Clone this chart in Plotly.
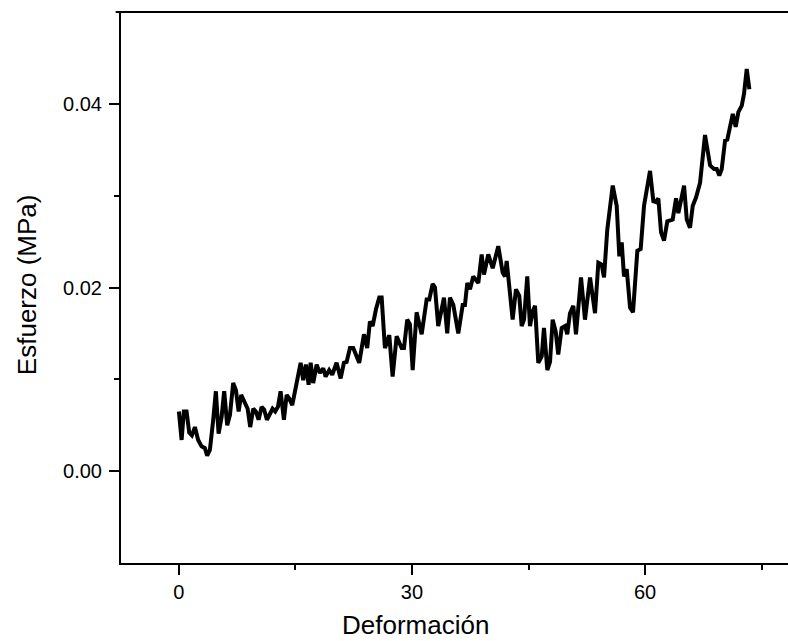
import plotly.graph_objects as go

deformacion = [0.0, 0.35, 0.64, 0.99, 1.33, 1.67, 2.06, 2.48, 2.92, 3.35, 3.64, 3.99, 4.42, 4.76, 5.11, 5.50, 5.83, 6.22, 6.57, 6.99,
               7.34, 7.69, 8.02, 8.46, 8.85, 9.18, 9.57, 9.91, 10.26, 10.65, 10.98, 11.33, 11.72, 12.06, 12.40, 12.75, 13.09, 13.52, 13.87, 14.20,
               14.59, 15.06, 15.67, 16.00, 16.35, 16.70, 16.96, 17.29, 17.73, 18.15, 18.58, 18.89, 19.35, 19.74, 20.30, 20.82, 21.24, 21.59, 22.02, 22.44,
               23.21, 23.82, 24.24, 24.59, 24.94, 25.36, 25.79, 26.10, 26.52, 27.08, 27.51, 28.03, 28.67, 28.97, 29.39, 29.74, 30.09, 30.60, 31.25, 31.89,
               32.23, 32.66, 32.96, 33.38, 33.82, 34.12, 34.54, 34.89, 35.32, 35.96, 36.53, 36.82, 37.12, 37.47, 37.89, 38.33, 38.54, 38.97, 39.27, 39.82,
               40.39, 41.11, 41.68, 41.97, 42.19, 42.96, 43.39, 43.81, 44.12, 44.42, 44.84, 45.19, 45.54, 45.84, 46.26, 46.70, 46.99, 47.42, 47.77, 48.11,
               48.50, 48.83, 49.27, 49.70, 49.99, 50.34, 50.77, 51.11, 51.76, 52.27, 52.92, 53.56, 53.99, 54.42, 54.72, 55.14, 55.84, 56.35, 56.69, 57.00,
               57.29, 57.64, 58.07, 58.45, 59.01, 59.44, 59.87, 60.64, 61.07, 61.41, 61.71, 62.06, 62.44, 62.87, 63.56, 63.99, 64.29, 65.02, 65.37, 65.79,
               66.14, 66.56, 67.08, 67.72, 68.37, 68.88, 69.23, 69.56, 69.87, 70.30, 70.59, 71.29, 71.67, 72.01, 72.45, 72.74, 73.09, 73.43]

esfuerzo = [0.0065, 0.0034, 0.0065, 0.0065, 0.0042, 0.0039, 0.0048, 0.0034, 0.0027, 0.0025, 0.0017, 0.0023, 0.0056, 0.0087, 0.0041, 0.0059, 0.0087, 0.0050, 0.0061, 0.0096,
            0.0088, 0.0065, 0.0083, 0.0076, 0.0068, 0.0048, 0.0068, 0.0065, 0.0056, 0.0070, 0.0067, 0.0056, 0.0063, 0.0068, 0.0065, 0.0070, 0.0087, 0.0056, 0.0083, 0.0079,
            0.0072, 0.0092, 0.0118, 0.0099, 0.0116, 0.0094, 0.0118, 0.0096, 0.0116, 0.0107, 0.0112, 0.0103, 0.0110, 0.0105, 0.0118, 0.0101, 0.0118, 0.0119, 0.0134, 0.0134,
            0.0118, 0.0149, 0.0134, 0.0163, 0.0158, 0.0176, 0.0189, 0.0189, 0.0134, 0.0148, 0.0103, 0.0147, 0.0134, 0.0134, 0.0165, 0.0160, 0.0110, 0.0173, 0.0149, 0.0187,
            0.0187, 0.0204, 0.0200, 0.0158, 0.0176, 0.0189, 0.0150, 0.0189, 0.0181, 0.0150, 0.0181, 0.0181, 0.0205, 0.0198, 0.0212, 0.0207, 0.0205, 0.0236, 0.0214, 0.0236,
            0.0221, 0.0245, 0.0216, 0.0212, 0.0229, 0.0165, 0.0198, 0.0191, 0.0158, 0.0165, 0.0212, 0.0158, 0.0174, 0.0180, 0.0118, 0.0125, 0.0156, 0.0110, 0.0119, 0.0165,
            0.0152, 0.0127, 0.0156, 0.0158, 0.0149, 0.0172, 0.0180, 0.0149, 0.0211, 0.0165, 0.0211, 0.0172, 0.0227, 0.0225, 0.0211, 0.0263, 0.0311, 0.0289, 0.0234, 0.0249,
            0.0212, 0.0220, 0.0178, 0.0173, 0.0240, 0.0242, 0.0289, 0.0327, 0.0294, 0.0293, 0.0297, 0.0260, 0.0251, 0.0272, 0.0274, 0.0297, 0.0281, 0.0311, 0.0274, 0.0265,
            0.0289, 0.0298, 0.0314, 0.0366, 0.0333, 0.0329, 0.0329, 0.0322, 0.0329, 0.0360, 0.0361, 0.0389, 0.0375, 0.0391, 0.0398, 0.0411, 0.0438, 0.0416]

x_tickvals = [0, 30, 60]
x_minor_tickvals = [15, 45, 75]
y_tickvals = [0.00, 0.02, 0.04]
y_ticktext = ["0.00", "0.02", "0.04"]
y_minor_tickvals = [0.01, 0.03]
x_title = "Deformación"
y_title = "Esfuerzo (MPa)"

fig = go.Figure()
fig.add_trace(go.Scatter(
    x=deformacion, y=esfuerzo, mode="lines",
    line=dict(color="black", width=4),
    showlegend=False,
))

font_family = "Liberation Sans, Arial, sans-serif"

fig.update_layout(
    width=788, height=641,
    margin=dict(l=121, r=0, t=12, b=78),
    paper_bgcolor="white", plot_bgcolor="white",
    font=dict(family=font_family, color="black", size=20),
    xaxis=dict(
        range=[-7.45, 78.4],
        tickvals=x_tickvals,
        ticks="outside", ticklen=10, tickwidth=2, tickcolor="black",
        showline=True, linecolor="black", linewidth=2, mirror=False,
        showgrid=False, zeroline=False,
        minor=dict(tickvals=x_minor_tickvals, ticks="outside", ticklen=5, tickwidth=2, tickcolor="black"),
        tickfont=dict(size=20),
    ),
    yaxis=dict(
        range=[-0.01, 0.05],
        tickvals=y_tickvals, ticktext=y_ticktext,
        ticks="outside", ticklen=10, tickwidth=2, tickcolor="black",
        showline=True, linecolor="black", linewidth=2,
        showgrid=False, zeroline=False,
        ticklabelstandoff=3,
        minor=dict(tickvals=y_minor_tickvals, ticks="outside", ticklen=5, tickwidth=2, tickcolor="black"),
        tickfont=dict(size=20),
    ),
    shapes=[dict(type="line", xref="paper", yref="paper", x0=-0.008, x1=1.0, y0=1.0, y1=1.0,
                 line=dict(color="black", width=2))],
    annotations=[
        dict(text=x_title, xref="paper", yref="paper", x=0.441, y=-0.112,
             xanchor="center", yanchor="middle", showarrow=False, font=dict(size=26)),
        dict(text=y_title, xref="paper", yref="paper", x=-0.141, y=0.506, textangle=-90,
             xanchor="center", yanchor="middle", showarrow=False, font=dict(size=26)),
    ],
)

fig.write_html("out.html", config={"displayModeBar": False},
               post_script="document.body.style.margin='0';document.body.style.overflow='hidden';")
